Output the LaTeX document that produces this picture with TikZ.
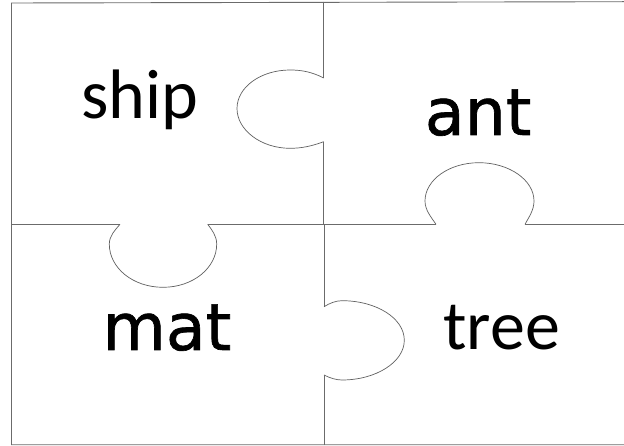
\documentclass[tikz,border=0pt]{standalone}
\usepackage{fontspec}
\setmainfont{Carlito}
\newfontfamily\roundfont[FakeBold=1]{DejaVu Sans}
\usetikzlibrary{positioning}

\begin{document}
\begin{tikzpicture}[x=1pt, y=-1pt,
  edge/.style={draw=black!58, line width=0.9pt},
  knob/.style={draw=black!62, line width=0.7pt},
  word/.style={anchor=base, inner sep=0pt, font=\fontsize{70}{72}\selectfont},
  bigword/.style={word, font=\roundfont\fontsize{65}{68}\selectfont}
]
  \useasboundingbox (0,0) rectangle (624,446);
  \fill[white] (0,0) rectangle (624,446);

  % frame
  \draw[edge] (624,1.7) -- (11.5,3) -- (11.5,444.7) -- (624,444.7);

  % vertical seam
  \draw[edge] (323.7,1.7) -- (323.7,78);
  \draw[knob] (323.7,78) .. controls (312,72) and (302,70) .. (290,70)
    .. controls (261,70) and (237,87) .. (237,108.5)
    .. controls (237,130) and (261,148.3) .. (290,148.3)
    .. controls (302,148.3) and (312,146) .. (323.7,141.7);
  \draw[edge] (323.7,141.7) -- (323.7,224.3) -- (324,224.3) -- (324,306.7);
  \draw[knob] (324,306.7) .. controls (330,303) and (336,300.7) .. (342,300.7)
    .. controls (376,300.7) and (404.3,318) .. (404.3,340.3)
    .. controls (404.3,362) and (376,380) .. (342,380)
    .. controls (336,380) and (330,378) .. (324,375);
  \draw[edge] (324,375) -- (324,444.7);

  % horizontal seam
  \draw[edge] (11.5,224.3) -- (120,224.3);
  \draw[knob] (120,224.3) .. controls (115,230) and (109.3,236) .. (109.3,244)
    .. controls (109.3,268) and (133,287.3) .. (163,287.3)
    .. controls (193,287.3) and (216.7,268) .. (216.7,244)
    .. controls (216.7,236) and (212,230) .. (207.7,224.3);
  \draw[edge] (207.7,224.3) -- (436,224.3);
  \draw[knob] (436,224.3) .. controls (431,217) and (425,210) .. (425,201)
    .. controls (425,180) and (449,162.7) .. (479,162.7)
    .. controls (509,162.7) and (534,180) .. (534,201)
    .. controls (534,210) and (529,217) .. (525,224.3);
  \draw[edge] (525,224.3) -- (624,224.3);

  \node[word] (ship) at (139.9,118.7) {ship};
  \node[bigword] (ant) at (478.1,135) {ant};
  \node[bigword] (mat) at (166.9,350) {mat};
  \node[word] (tree) at (501.8,350) {tree};
\end{tikzpicture}
\end{document}
